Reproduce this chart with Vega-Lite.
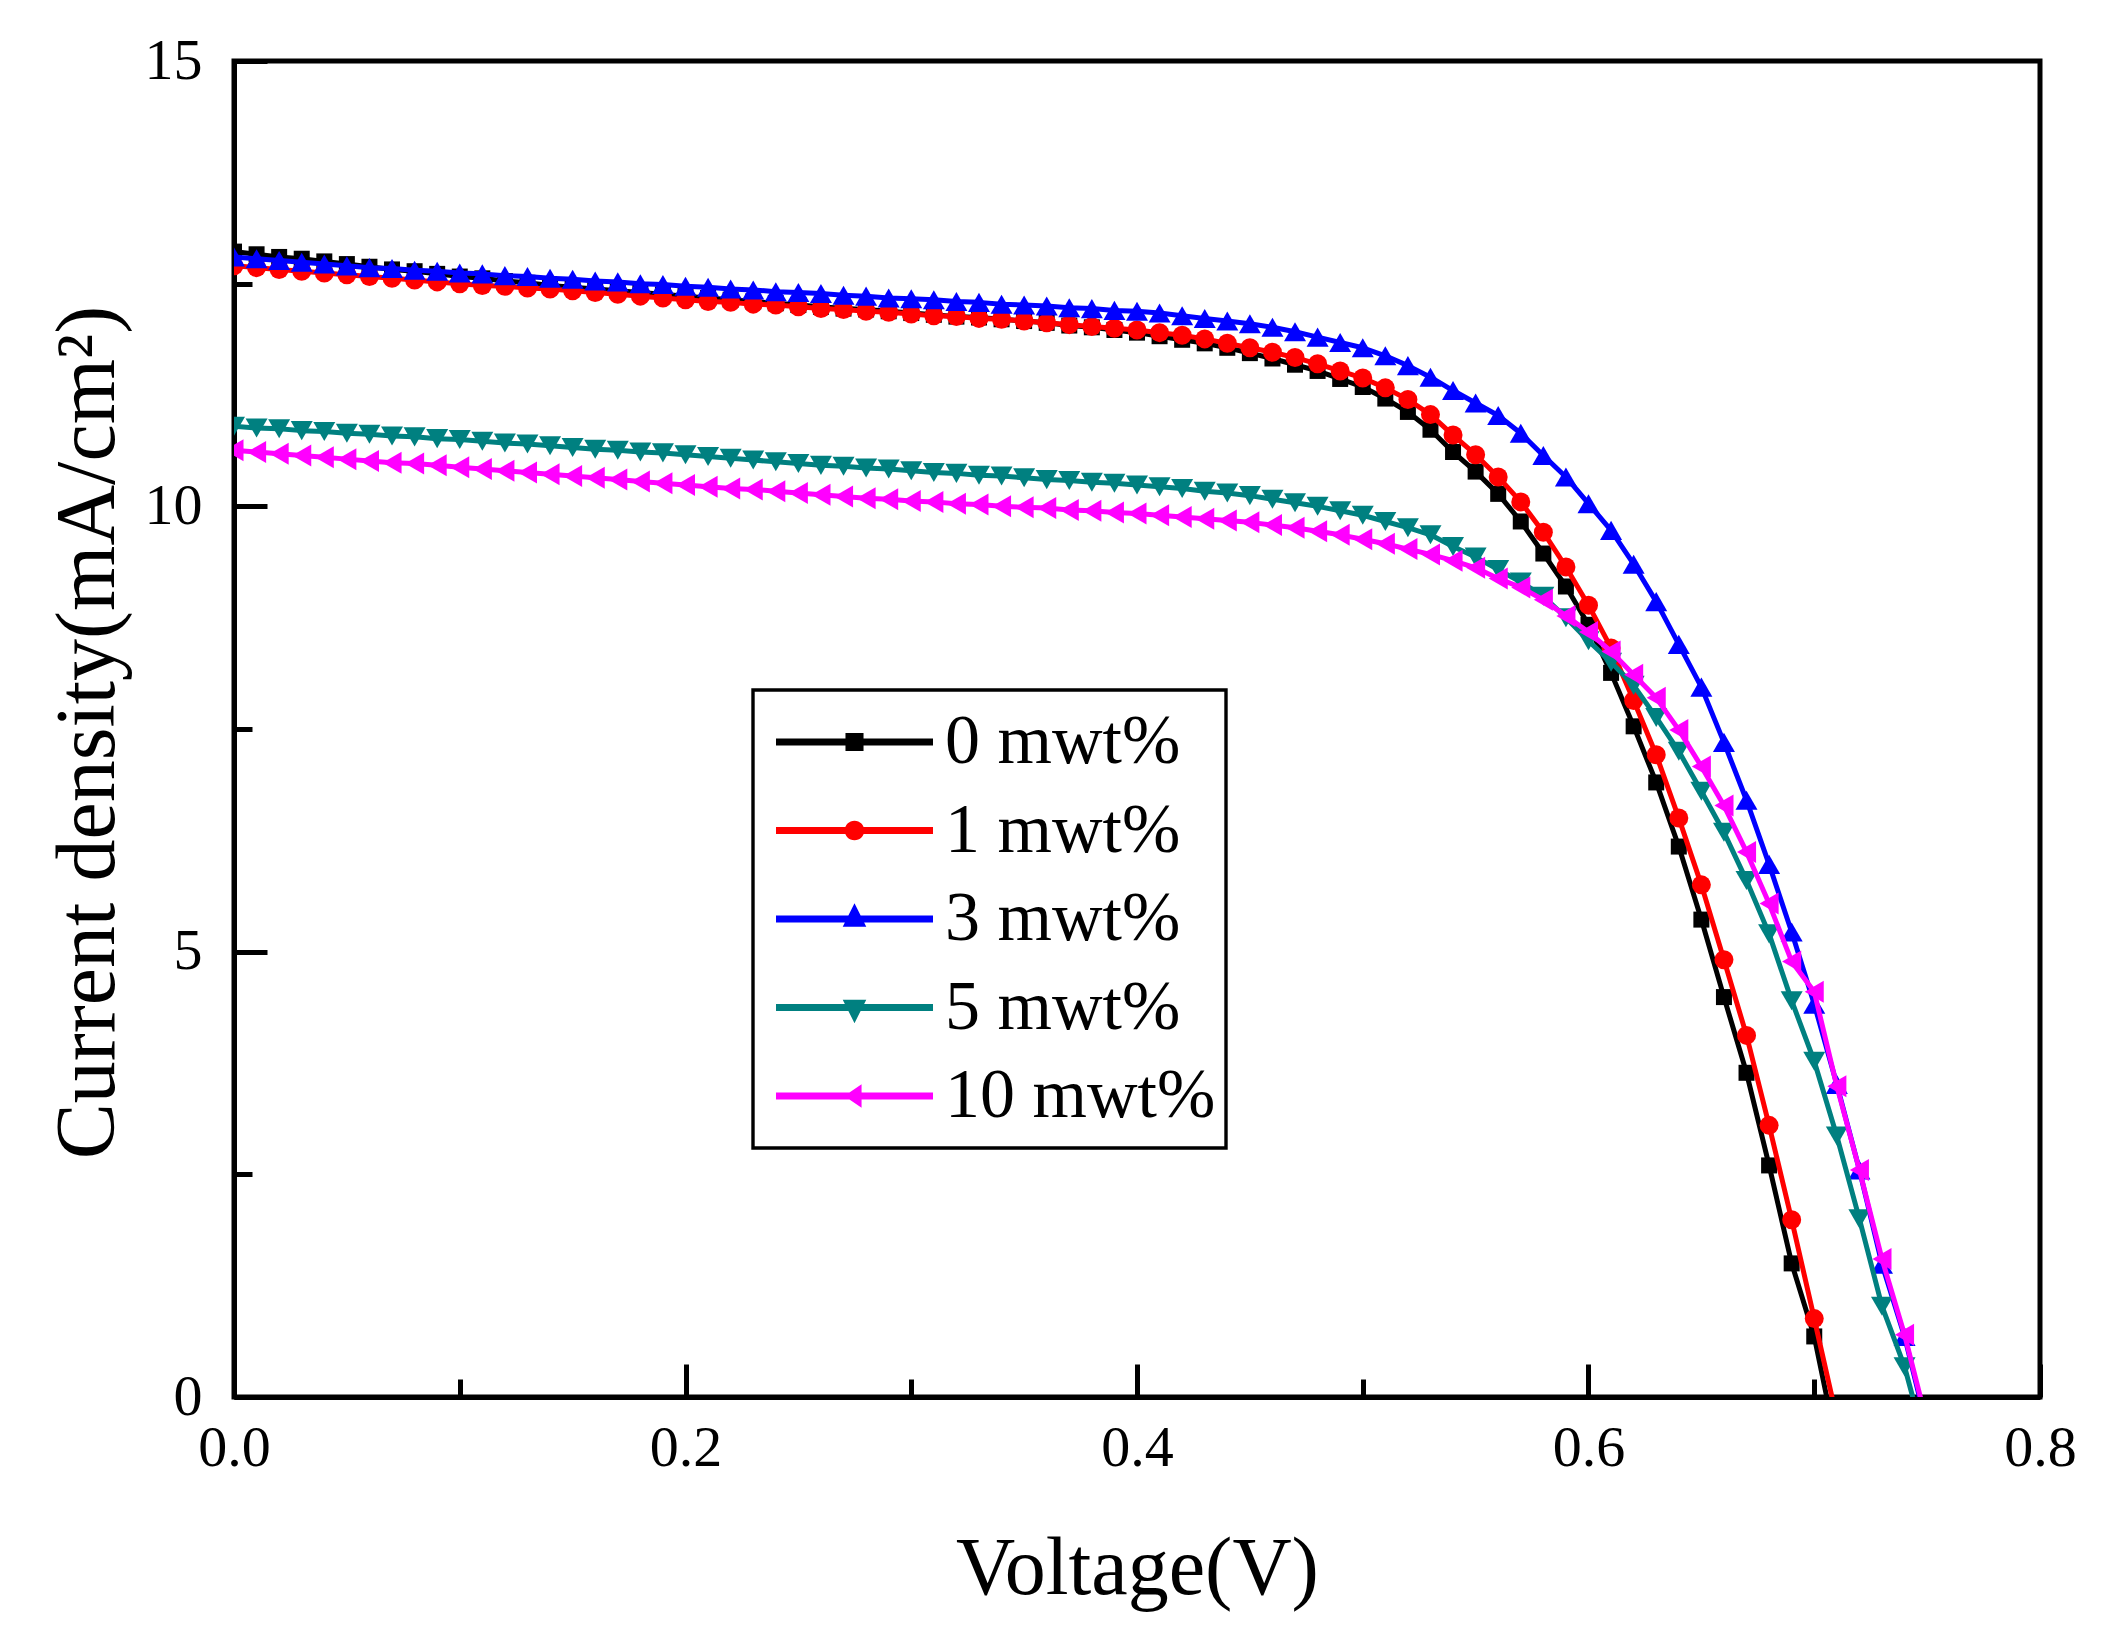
{
  "$schema": "https://vega.github.io/schema/vega-lite/v6.json",
  "width": 1806,
  "height": 1336,
  "autosize": {"type": "none"},
  "padding": {"left": 234, "top": 61, "right": 61, "bottom": 234},
  "background": "white",
  "config": {
    "font": "Liberation Serif",
    "view": {"stroke": "black", "strokeWidth": 5}
  },
  "data": {
    "values": [
      {"s":"0 mwt%","v":0.00,"j":12.86},{"s":"0 mwt%","v":0.01,"j":12.83},{"s":"0 mwt%","v":0.02,"j":12.80},{"s":"0 mwt%","v":0.03,"j":12.78},{"s":"0 mwt%","v":0.04,"j":12.75},
      {"s":"0 mwt%","v":0.05,"j":12.72},{"s":"0 mwt%","v":0.06,"j":12.69},{"s":"0 mwt%","v":0.07,"j":12.66},{"s":"0 mwt%","v":0.08,"j":12.64},{"s":"0 mwt%","v":0.09,"j":12.61},
      {"s":"0 mwt%","v":0.10,"j":12.58},{"s":"0 mwt%","v":0.11,"j":12.56},{"s":"0 mwt%","v":0.12,"j":12.53},{"s":"0 mwt%","v":0.13,"j":12.51},{"s":"0 mwt%","v":0.14,"j":12.48},
      {"s":"0 mwt%","v":0.15,"j":12.46},{"s":"0 mwt%","v":0.16,"j":12.44},{"s":"0 mwt%","v":0.17,"j":12.42},{"s":"0 mwt%","v":0.18,"j":12.40},{"s":"0 mwt%","v":0.19,"j":12.38},
      {"s":"0 mwt%","v":0.20,"j":12.36},{"s":"0 mwt%","v":0.21,"j":12.34},{"s":"0 mwt%","v":0.22,"j":12.32},{"s":"0 mwt%","v":0.23,"j":12.30},{"s":"0 mwt%","v":0.24,"j":12.28},
      {"s":"0 mwt%","v":0.25,"j":12.26},{"s":"0 mwt%","v":0.26,"j":12.24},{"s":"0 mwt%","v":0.27,"j":12.22},{"s":"0 mwt%","v":0.28,"j":12.21},{"s":"0 mwt%","v":0.29,"j":12.19},
      {"s":"0 mwt%","v":0.30,"j":12.17},{"s":"0 mwt%","v":0.31,"j":12.15},{"s":"0 mwt%","v":0.32,"j":12.13},{"s":"0 mwt%","v":0.33,"j":12.12},{"s":"0 mwt%","v":0.34,"j":12.10},
      {"s":"0 mwt%","v":0.35,"j":12.08},{"s":"0 mwt%","v":0.36,"j":12.06},{"s":"0 mwt%","v":0.37,"j":12.03},{"s":"0 mwt%","v":0.38,"j":12.01},{"s":"0 mwt%","v":0.39,"j":11.98},
      {"s":"0 mwt%","v":0.40,"j":11.95},{"s":"0 mwt%","v":0.41,"j":11.91},{"s":"0 mwt%","v":0.42,"j":11.87},{"s":"0 mwt%","v":0.43,"j":11.83},{"s":"0 mwt%","v":0.44,"j":11.78},
      {"s":"0 mwt%","v":0.45,"j":11.72},{"s":"0 mwt%","v":0.46,"j":11.66},{"s":"0 mwt%","v":0.47,"j":11.59},{"s":"0 mwt%","v":0.48,"j":11.52},{"s":"0 mwt%","v":0.49,"j":11.43},
      {"s":"0 mwt%","v":0.50,"j":11.34},{"s":"0 mwt%","v":0.51,"j":11.21},{"s":"0 mwt%","v":0.52,"j":11.06},{"s":"0 mwt%","v":0.53,"j":10.86},{"s":"0 mwt%","v":0.54,"j":10.61},
      {"s":"0 mwt%","v":0.55,"j":10.39},{"s":"0 mwt%","v":0.56,"j":10.14},{"s":"0 mwt%","v":0.57,"j":9.83},{"s":"0 mwt%","v":0.58,"j":9.47},{"s":"0 mwt%","v":0.59,"j":9.10},
      {"s":"0 mwt%","v":0.60,"j":8.67},{"s":"0 mwt%","v":0.61,"j":8.13},{"s":"0 mwt%","v":0.62,"j":7.53},{"s":"0 mwt%","v":0.63,"j":6.90},{"s":"0 mwt%","v":0.64,"j":6.18},
      {"s":"0 mwt%","v":0.65,"j":5.36},{"s":"0 mwt%","v":0.66,"j":4.49},{"s":"0 mwt%","v":0.67,"j":3.64},{"s":"0 mwt%","v":0.68,"j":2.60},{"s":"0 mwt%","v":0.69,"j":1.50},
      {"s":"0 mwt%","v":0.70,"j":0.68},{"s":"0 mwt%","v":0.71,"j":-0.55},

      {"s":"1 mwt%","v":0.00,"j":12.70},{"s":"1 mwt%","v":0.01,"j":12.68},{"s":"1 mwt%","v":0.02,"j":12.66},{"s":"1 mwt%","v":0.03,"j":12.64},{"s":"1 mwt%","v":0.04,"j":12.62},
      {"s":"1 mwt%","v":0.05,"j":12.60},{"s":"1 mwt%","v":0.06,"j":12.58},{"s":"1 mwt%","v":0.07,"j":12.56},{"s":"1 mwt%","v":0.08,"j":12.54},{"s":"1 mwt%","v":0.09,"j":12.52},
      {"s":"1 mwt%","v":0.10,"j":12.50},{"s":"1 mwt%","v":0.11,"j":12.48},{"s":"1 mwt%","v":0.12,"j":12.47},{"s":"1 mwt%","v":0.13,"j":12.45},{"s":"1 mwt%","v":0.14,"j":12.44},
      {"s":"1 mwt%","v":0.15,"j":12.42},{"s":"1 mwt%","v":0.16,"j":12.40},{"s":"1 mwt%","v":0.17,"j":12.38},{"s":"1 mwt%","v":0.18,"j":12.36},{"s":"1 mwt%","v":0.19,"j":12.34},
      {"s":"1 mwt%","v":0.20,"j":12.32},{"s":"1 mwt%","v":0.21,"j":12.30},{"s":"1 mwt%","v":0.22,"j":12.29},{"s":"1 mwt%","v":0.23,"j":12.27},{"s":"1 mwt%","v":0.24,"j":12.26},
      {"s":"1 mwt%","v":0.25,"j":12.24},{"s":"1 mwt%","v":0.26,"j":12.22},{"s":"1 mwt%","v":0.27,"j":12.21},{"s":"1 mwt%","v":0.28,"j":12.19},{"s":"1 mwt%","v":0.29,"j":12.18},
      {"s":"1 mwt%","v":0.30,"j":12.16},{"s":"1 mwt%","v":0.31,"j":12.14},{"s":"1 mwt%","v":0.32,"j":12.13},{"s":"1 mwt%","v":0.33,"j":12.11},{"s":"1 mwt%","v":0.34,"j":12.10},
      {"s":"1 mwt%","v":0.35,"j":12.08},{"s":"1 mwt%","v":0.36,"j":12.06},{"s":"1 mwt%","v":0.37,"j":12.04},{"s":"1 mwt%","v":0.38,"j":12.02},{"s":"1 mwt%","v":0.39,"j":12.00},
      {"s":"1 mwt%","v":0.40,"j":11.98},{"s":"1 mwt%","v":0.41,"j":11.95},{"s":"1 mwt%","v":0.42,"j":11.92},{"s":"1 mwt%","v":0.43,"j":11.88},{"s":"1 mwt%","v":0.44,"j":11.83},
      {"s":"1 mwt%","v":0.45,"j":11.78},{"s":"1 mwt%","v":0.46,"j":11.73},{"s":"1 mwt%","v":0.47,"j":11.67},{"s":"1 mwt%","v":0.48,"j":11.60},{"s":"1 mwt%","v":0.49,"j":11.52},
      {"s":"1 mwt%","v":0.50,"j":11.44},{"s":"1 mwt%","v":0.51,"j":11.33},{"s":"1 mwt%","v":0.52,"j":11.20},{"s":"1 mwt%","v":0.53,"j":11.03},{"s":"1 mwt%","v":0.54,"j":10.80},
      {"s":"1 mwt%","v":0.55,"j":10.58},{"s":"1 mwt%","v":0.56,"j":10.33},{"s":"1 mwt%","v":0.57,"j":10.05},{"s":"1 mwt%","v":0.58,"j":9.71},{"s":"1 mwt%","v":0.59,"j":9.32},
      {"s":"1 mwt%","v":0.60,"j":8.89},{"s":"1 mwt%","v":0.61,"j":8.41},{"s":"1 mwt%","v":0.62,"j":7.82},{"s":"1 mwt%","v":0.63,"j":7.21},{"s":"1 mwt%","v":0.64,"j":6.50},
      {"s":"1 mwt%","v":0.65,"j":5.75},{"s":"1 mwt%","v":0.66,"j":4.91},{"s":"1 mwt%","v":0.67,"j":4.06},{"s":"1 mwt%","v":0.68,"j":3.05},{"s":"1 mwt%","v":0.69,"j":1.99},
      {"s":"1 mwt%","v":0.70,"j":0.88},{"s":"1 mwt%","v":0.71,"j":-0.24},

      {"s":"3 mwt%","v":0.00,"j":12.80},{"s":"3 mwt%","v":0.01,"j":12.78},{"s":"3 mwt%","v":0.02,"j":12.76},{"s":"3 mwt%","v":0.03,"j":12.74},{"s":"3 mwt%","v":0.04,"j":12.72},
      {"s":"3 mwt%","v":0.05,"j":12.70},{"s":"3 mwt%","v":0.06,"j":12.68},{"s":"3 mwt%","v":0.07,"j":12.67},{"s":"3 mwt%","v":0.08,"j":12.65},{"s":"3 mwt%","v":0.09,"j":12.64},
      {"s":"3 mwt%","v":0.10,"j":12.62},{"s":"3 mwt%","v":0.11,"j":12.61},{"s":"3 mwt%","v":0.12,"j":12.59},{"s":"3 mwt%","v":0.13,"j":12.58},{"s":"3 mwt%","v":0.14,"j":12.56},
      {"s":"3 mwt%","v":0.15,"j":12.55},{"s":"3 mwt%","v":0.16,"j":12.53},{"s":"3 mwt%","v":0.17,"j":12.52},{"s":"3 mwt%","v":0.18,"j":12.50},{"s":"3 mwt%","v":0.19,"j":12.49},
      {"s":"3 mwt%","v":0.20,"j":12.47},{"s":"3 mwt%","v":0.21,"j":12.46},{"s":"3 mwt%","v":0.22,"j":12.44},{"s":"3 mwt%","v":0.23,"j":12.43},{"s":"3 mwt%","v":0.24,"j":12.41},
      {"s":"3 mwt%","v":0.25,"j":12.40},{"s":"3 mwt%","v":0.26,"j":12.39},{"s":"3 mwt%","v":0.27,"j":12.37},{"s":"3 mwt%","v":0.28,"j":12.36},{"s":"3 mwt%","v":0.29,"j":12.34},
      {"s":"3 mwt%","v":0.30,"j":12.33},{"s":"3 mwt%","v":0.31,"j":12.32},{"s":"3 mwt%","v":0.32,"j":12.30},{"s":"3 mwt%","v":0.33,"j":12.29},{"s":"3 mwt%","v":0.34,"j":12.27},
      {"s":"3 mwt%","v":0.35,"j":12.26},{"s":"3 mwt%","v":0.36,"j":12.25},{"s":"3 mwt%","v":0.37,"j":12.23},{"s":"3 mwt%","v":0.38,"j":12.22},{"s":"3 mwt%","v":0.39,"j":12.20},
      {"s":"3 mwt%","v":0.40,"j":12.19},{"s":"3 mwt%","v":0.41,"j":12.17},{"s":"3 mwt%","v":0.42,"j":12.14},{"s":"3 mwt%","v":0.43,"j":12.11},{"s":"3 mwt%","v":0.44,"j":12.08},
      {"s":"3 mwt%","v":0.45,"j":12.05},{"s":"3 mwt%","v":0.46,"j":12.01},{"s":"3 mwt%","v":0.47,"j":11.96},{"s":"3 mwt%","v":0.48,"j":11.90},{"s":"3 mwt%","v":0.49,"j":11.84},
      {"s":"3 mwt%","v":0.50,"j":11.78},{"s":"3 mwt%","v":0.51,"j":11.69},{"s":"3 mwt%","v":0.52,"j":11.58},{"s":"3 mwt%","v":0.53,"j":11.45},{"s":"3 mwt%","v":0.54,"j":11.30},
      {"s":"3 mwt%","v":0.55,"j":11.16},{"s":"3 mwt%","v":0.56,"j":11.02},{"s":"3 mwt%","v":0.57,"j":10.82},{"s":"3 mwt%","v":0.58,"j":10.57},{"s":"3 mwt%","v":0.59,"j":10.33},
      {"s":"3 mwt%","v":0.60,"j":10.03},{"s":"3 mwt%","v":0.61,"j":9.73},{"s":"3 mwt%","v":0.62,"j":9.35},{"s":"3 mwt%","v":0.63,"j":8.93},{"s":"3 mwt%","v":0.64,"j":8.45},
      {"s":"3 mwt%","v":0.65,"j":7.97},{"s":"3 mwt%","v":0.66,"j":7.35},{"s":"3 mwt%","v":0.67,"j":6.70},{"s":"3 mwt%","v":0.68,"j":5.98},{"s":"3 mwt%","v":0.69,"j":5.22},
      {"s":"3 mwt%","v":0.70,"j":4.41},{"s":"3 mwt%","v":0.71,"j":3.51},{"s":"3 mwt%","v":0.72,"j":2.55},{"s":"3 mwt%","v":0.73,"j":1.49},{"s":"3 mwt%","v":0.74,"j":0.68},
      {"s":"3 mwt%","v":0.75,"j":-0.35},

      {"s":"5 mwt%","v":0.00,"j":10.90},{"s":"5 mwt%","v":0.01,"j":10.88},{"s":"5 mwt%","v":0.02,"j":10.87},{"s":"5 mwt%","v":0.03,"j":10.85},{"s":"5 mwt%","v":0.04,"j":10.84},
      {"s":"5 mwt%","v":0.05,"j":10.82},{"s":"5 mwt%","v":0.06,"j":10.81},{"s":"5 mwt%","v":0.07,"j":10.79},{"s":"5 mwt%","v":0.08,"j":10.78},{"s":"5 mwt%","v":0.09,"j":10.76},
      {"s":"5 mwt%","v":0.10,"j":10.75},{"s":"5 mwt%","v":0.11,"j":10.73},{"s":"5 mwt%","v":0.12,"j":10.71},{"s":"5 mwt%","v":0.13,"j":10.70},{"s":"5 mwt%","v":0.14,"j":10.68},
      {"s":"5 mwt%","v":0.15,"j":10.66},{"s":"5 mwt%","v":0.16,"j":10.64},{"s":"5 mwt%","v":0.17,"j":10.63},{"s":"5 mwt%","v":0.18,"j":10.61},{"s":"5 mwt%","v":0.19,"j":10.60},
      {"s":"5 mwt%","v":0.20,"j":10.58},{"s":"5 mwt%","v":0.21,"j":10.56},{"s":"5 mwt%","v":0.22,"j":10.54},{"s":"5 mwt%","v":0.23,"j":10.52},{"s":"5 mwt%","v":0.24,"j":10.50},
      {"s":"5 mwt%","v":0.25,"j":10.48},{"s":"5 mwt%","v":0.26,"j":10.46},{"s":"5 mwt%","v":0.27,"j":10.45},{"s":"5 mwt%","v":0.28,"j":10.43},{"s":"5 mwt%","v":0.29,"j":10.42},
      {"s":"5 mwt%","v":0.30,"j":10.40},{"s":"5 mwt%","v":0.31,"j":10.38},{"s":"5 mwt%","v":0.32,"j":10.37},{"s":"5 mwt%","v":0.33,"j":10.35},{"s":"5 mwt%","v":0.34,"j":10.34},
      {"s":"5 mwt%","v":0.35,"j":10.32},{"s":"5 mwt%","v":0.36,"j":10.30},{"s":"5 mwt%","v":0.37,"j":10.29},{"s":"5 mwt%","v":0.38,"j":10.27},{"s":"5 mwt%","v":0.39,"j":10.26},
      {"s":"5 mwt%","v":0.40,"j":10.24},{"s":"5 mwt%","v":0.41,"j":10.22},{"s":"5 mwt%","v":0.42,"j":10.20},{"s":"5 mwt%","v":0.43,"j":10.17},{"s":"5 mwt%","v":0.44,"j":10.15},
      {"s":"5 mwt%","v":0.45,"j":10.12},{"s":"5 mwt%","v":0.46,"j":10.08},{"s":"5 mwt%","v":0.47,"j":10.04},{"s":"5 mwt%","v":0.48,"j":10.00},{"s":"5 mwt%","v":0.49,"j":9.95},
      {"s":"5 mwt%","v":0.50,"j":9.90},{"s":"5 mwt%","v":0.51,"j":9.83},{"s":"5 mwt%","v":0.52,"j":9.76},{"s":"5 mwt%","v":0.53,"j":9.68},{"s":"5 mwt%","v":0.54,"j":9.55},
      {"s":"5 mwt%","v":0.55,"j":9.43},{"s":"5 mwt%","v":0.56,"j":9.29},{"s":"5 mwt%","v":0.57,"j":9.15},{"s":"5 mwt%","v":0.58,"j":8.99},{"s":"5 mwt%","v":0.59,"j":8.75},
      {"s":"5 mwt%","v":0.60,"j":8.49},{"s":"5 mwt%","v":0.61,"j":8.25},{"s":"5 mwt%","v":0.62,"j":7.99},{"s":"5 mwt%","v":0.63,"j":7.63},{"s":"5 mwt%","v":0.64,"j":7.25},
      {"s":"5 mwt%","v":0.65,"j":6.80},{"s":"5 mwt%","v":0.66,"j":6.34},{"s":"5 mwt%","v":0.67,"j":5.80},{"s":"5 mwt%","v":0.68,"j":5.20},{"s":"5 mwt%","v":0.69,"j":4.45},
      {"s":"5 mwt%","v":0.70,"j":3.77},{"s":"5 mwt%","v":0.71,"j":2.93},{"s":"5 mwt%","v":0.72,"j":2.00},{"s":"5 mwt%","v":0.73,"j":1.02},{"s":"5 mwt%","v":0.74,"j":0.34},
      {"s":"5 mwt%","v":0.75,"j":-0.60},

      {"s":"10 mwt%","v":0.00,"j":10.63},{"s":"10 mwt%","v":0.01,"j":10.61},{"s":"10 mwt%","v":0.02,"j":10.59},{"s":"10 mwt%","v":0.03,"j":10.57},{"s":"10 mwt%","v":0.04,"j":10.55},
      {"s":"10 mwt%","v":0.05,"j":10.53},{"s":"10 mwt%","v":0.06,"j":10.51},{"s":"10 mwt%","v":0.07,"j":10.49},{"s":"10 mwt%","v":0.08,"j":10.48},{"s":"10 mwt%","v":0.09,"j":10.46},
      {"s":"10 mwt%","v":0.10,"j":10.44},{"s":"10 mwt%","v":0.11,"j":10.42},{"s":"10 mwt%","v":0.12,"j":10.40},{"s":"10 mwt%","v":0.13,"j":10.38},{"s":"10 mwt%","v":0.14,"j":10.36},
      {"s":"10 mwt%","v":0.15,"j":10.34},{"s":"10 mwt%","v":0.16,"j":10.32},{"s":"10 mwt%","v":0.17,"j":10.30},{"s":"10 mwt%","v":0.18,"j":10.28},{"s":"10 mwt%","v":0.19,"j":10.26},
      {"s":"10 mwt%","v":0.20,"j":10.24},{"s":"10 mwt%","v":0.21,"j":10.22},{"s":"10 mwt%","v":0.22,"j":10.20},{"s":"10 mwt%","v":0.23,"j":10.19},{"s":"10 mwt%","v":0.24,"j":10.17},
      {"s":"10 mwt%","v":0.25,"j":10.15},{"s":"10 mwt%","v":0.26,"j":10.13},{"s":"10 mwt%","v":0.27,"j":10.11},{"s":"10 mwt%","v":0.28,"j":10.09},{"s":"10 mwt%","v":0.29,"j":10.08},
      {"s":"10 mwt%","v":0.30,"j":10.06},{"s":"10 mwt%","v":0.31,"j":10.05},{"s":"10 mwt%","v":0.32,"j":10.03},{"s":"10 mwt%","v":0.33,"j":10.02},{"s":"10 mwt%","v":0.34,"j":10.00},
      {"s":"10 mwt%","v":0.35,"j":9.99},{"s":"10 mwt%","v":0.36,"j":9.98},{"s":"10 mwt%","v":0.37,"j":9.96},{"s":"10 mwt%","v":0.38,"j":9.95},{"s":"10 mwt%","v":0.39,"j":9.93},
      {"s":"10 mwt%","v":0.40,"j":9.92},{"s":"10 mwt%","v":0.41,"j":9.90},{"s":"10 mwt%","v":0.42,"j":9.88},{"s":"10 mwt%","v":0.43,"j":9.86},{"s":"10 mwt%","v":0.44,"j":9.84},
      {"s":"10 mwt%","v":0.45,"j":9.82},{"s":"10 mwt%","v":0.46,"j":9.79},{"s":"10 mwt%","v":0.47,"j":9.76},{"s":"10 mwt%","v":0.48,"j":9.72},{"s":"10 mwt%","v":0.49,"j":9.68},
      {"s":"10 mwt%","v":0.50,"j":9.63},{"s":"10 mwt%","v":0.51,"j":9.58},{"s":"10 mwt%","v":0.52,"j":9.52},{"s":"10 mwt%","v":0.53,"j":9.46},{"s":"10 mwt%","v":0.54,"j":9.39},
      {"s":"10 mwt%","v":0.55,"j":9.31},{"s":"10 mwt%","v":0.56,"j":9.19},{"s":"10 mwt%","v":0.57,"j":9.09},{"s":"10 mwt%","v":0.58,"j":8.95},{"s":"10 mwt%","v":0.59,"j":8.77},
      {"s":"10 mwt%","v":0.60,"j":8.59},{"s":"10 mwt%","v":0.61,"j":8.37},{"s":"10 mwt%","v":0.62,"j":8.11},{"s":"10 mwt%","v":0.63,"j":7.85},{"s":"10 mwt%","v":0.64,"j":7.49},
      {"s":"10 mwt%","v":0.65,"j":7.08},{"s":"10 mwt%","v":0.66,"j":6.64},{"s":"10 mwt%","v":0.67,"j":6.12},{"s":"10 mwt%","v":0.68,"j":5.54},{"s":"10 mwt%","v":0.69,"j":4.89},
      {"s":"10 mwt%","v":0.70,"j":4.55},{"s":"10 mwt%","v":0.71,"j":3.49},{"s":"10 mwt%","v":0.72,"j":2.55},{"s":"10 mwt%","v":0.73,"j":1.55},{"s":"10 mwt%","v":0.74,"j":0.70},
      {"s":"10 mwt%","v":0.75,"j":-0.30}
    ]
  },
  "encoding": {
    "x": {"field": "v", "type": "quantitative", "scale": {"domain": [0, 0.8], "nice": false, "zero": false}, "axis": null},
    "y": {"field": "j", "type": "quantitative", "scale": {"domain": [0, 15], "nice": false}, "axis": null}
  },
  "layer": [
    {
      "transform": [{"filter": {"field": "s", "equal": "0 mwt%"}}],
      "mark": {"type": "line", "color": "#000000", "strokeWidth": 5, "strokeJoin": "round", "clip": true},
      "encoding": {
        "x": {"field": "v", "type": "quantitative", "scale": {"domain": [0, 0.8], "nice": false, "zero": false},
          "axis": {"orient": "bottom", "values": [0, 0.2, 0.4, 0.6, 0.8], "format": ".1f", "grid": false,
            "domainColor": "black", "domainWidth": 5, "tickColor": "black", "tickWidth": 5, "tickSize": -33,
            "labelFont": "Liberation Serif", "labelFontSize": 58, "labelColor": "black", "labelPadding": 55, "labelFlush": false, "labelOverlap": false,
            "title": "Voltage(V)", "titleFont": "Liberation Serif", "titleFontSize": 82, "titleFontWeight": "normal", "titleColor": "black",
            "titleX": 903, "titleY": 196, "titleBaseline": "alphabetic", "titleAlign": "center"}},
        "y": {"field": "j", "type": "quantitative", "scale": {"domain": [0, 15], "nice": false},
          "axis": {"orient": "left", "values": [0, 5, 10, 15], "format": "d", "grid": false,
            "domainColor": "black", "domainWidth": 5, "tickColor": "black", "tickWidth": 5, "tickSize": -33,
            "labelFont": "Liberation Serif", "labelFontSize": 58, "labelColor": "black", "labelPadding": 65, "labelFlush": false, "labelOverlap": false,
            "title": "Current density(mA/cm²)", "titleFont": "Liberation Serif", "titleFontSize": 84, "titleFontWeight": "normal", "titleColor": "black",
            "titleX": -121, "titleY": 671, "titleAngle": -90, "titleBaseline": "alphabetic", "titleAlign": "center"}}
      }
    },
    {
      "transform": [{"filter": {"field": "s", "equal": "0 mwt%"}}],
      "mark": {"type": "point", "shape": "square", "filled": true, "color": "#000000", "size": 256, "opacity": 1, "clip": true},
      "encoding": {
        "x": {"field": "v", "type": "quantitative", "scale": {"domain": [0, 0.8], "nice": false, "zero": false},
          "axis": {"orient": "bottom", "values": [0.1, 0.3, 0.5, 0.7], "labels": false, "domain": false, "grid": false, "title": null,
            "tickColor": "black", "tickWidth": 5, "tickSize": -18}},
        "y": {"field": "j", "type": "quantitative", "scale": {"domain": [0, 15], "nice": false},
          "axis": {"orient": "left", "values": [2.5, 7.5, 12.5], "labels": false, "domain": false, "grid": false, "title": null,
            "tickColor": "black", "tickWidth": 5, "tickSize": -18}}
      }
    },
    {
      "transform": [{"filter": {"field": "s", "equal": "1 mwt%"}}],
      "mark": {"type": "line", "color": "#FF0000", "strokeWidth": 5, "strokeJoin": "round", "clip": true}
    },
    {
      "transform": [{"filter": {"field": "s", "equal": "1 mwt%"}}],
      "mark": {"type": "point", "shape": "circle", "filled": true, "color": "#FF0000", "size": 361, "opacity": 1, "clip": true}
    },
    {
      "transform": [{"filter": {"field": "s", "equal": "3 mwt%"}}],
      "mark": {"type": "line", "color": "#0000FF", "strokeWidth": 5, "strokeJoin": "round", "clip": true}
    },
    {
      "transform": [{"filter": {"field": "s", "equal": "3 mwt%"}}],
      "mark": {"type": "point", "shape": "triangle-up", "filled": true, "color": "#0000FF", "size": 484, "opacity": 1, "clip": true}
    },
    {
      "transform": [{"filter": {"field": "s", "equal": "5 mwt%"}}],
      "mark": {"type": "line", "color": "#008080", "strokeWidth": 5, "strokeJoin": "round", "clip": true}
    },
    {
      "transform": [{"filter": {"field": "s", "equal": "5 mwt%"}}],
      "mark": {"type": "point", "shape": "triangle-down", "filled": true, "color": "#008080", "size": 484, "opacity": 1, "clip": true}
    },
    {
      "transform": [{"filter": {"field": "s", "equal": "10 mwt%"}}],
      "mark": {"type": "line", "color": "#FF00FF", "strokeWidth": 5, "strokeJoin": "round", "clip": true}
    },
    {
      "transform": [{"filter": {"field": "s", "equal": "10 mwt%"}}],
      "mark": {"type": "point", "shape": "triangle-left", "filled": true, "color": "#FF00FF", "size": 484, "opacity": 1, "clip": true}
    },
    {
      "transform": [{"filter": {"field": "v", "equal": 0}}],
      "mark": {"type": "point", "filled": true, "opacity": 0, "clip": true},
      "encoding": {
        "color": {"field": "s", "type": "nominal",
          "scale": {"domain": ["0 mwt%", "1 mwt%", "3 mwt%", "5 mwt%", "10 mwt%"], "range": ["#000000", "#FF0000", "#0000FF", "#008080", "#FF00FF"]},
          "legend": {"orient": "none", "legendX": 519, "legendY": 629, "direction": "vertical", "title": null,
            "symbolSize": 24649, "symbolStrokeWidth": 0, "symbolOpacity": 1, "symbolOffset": 13,
            "labelFont": "Liberation Serif", "labelFontSize": 70, "labelColor": "black", "labelOffset": 12, "labelLimit": 0,
            "clipHeight": 84, "rowPadding": 4.5, "padding": 10,
            "strokeColor": "black", "fillColor": "white",
            "encode": {"legend": {"update": {"strokeWidth": {"value": 3.4}}}}}},
        "shape": {"field": "s", "type": "nominal",
          "scale": {"domain": ["0 mwt%", "1 mwt%", "3 mwt%", "5 mwt%", "10 mwt%"],
            "range": [
              "M-1,-0.045L1,-0.045L1,0.045L-1,0.045ZM-0.115,-0.115L0.115,-0.115L0.115,0.115L-0.115,0.115Z",
              "M-1,-0.045L1,-0.045L1,0.045L-1,0.045ZM-0.125,0A0.125,0.125,0,1,1,0.125,0A0.125,0.125,0,1,1,-0.125,0Z",
              "M-1,-0.045L1,-0.045L1,0.045L-1,0.045ZM0,-0.2L0.15,0.1L-0.15,0.1Z",
              "M-1,-0.045L1,-0.045L1,0.045L-1,0.045ZM-0.15,-0.1L0.15,-0.1L0,0.2Z",
              "M-1,-0.045L1,-0.045L1,0.045L-1,0.045ZM-0.13,0L0.09,-0.15L0.09,0.15Z"
            ]}}
      }
    }
  ],
  "resolve": {"axis": {"x": "independent", "y": "independent"}}
}
